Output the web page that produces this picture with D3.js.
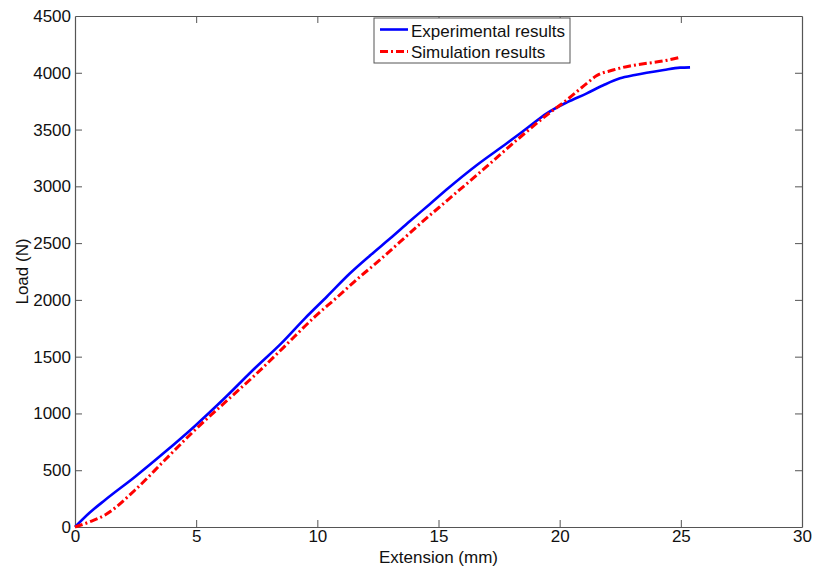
<!DOCTYPE html>
<html>
<head>
<meta charset="utf-8">
<script src="https://cdn.jsdelivr.net/npm/d3@7"></script>
<style>
  html, body { margin: 0; padding: 0; background: #fff; }
  svg { display: block; font-family: "Liberation Sans", Arial, sans-serif; }
</style>
</head>
<body>
<svg id="chart" width="815" height="571"></svg>
<script>
// ---- data ----
const expExtension = [0, 0.6, 1.24, 2.48, 3.71, 4.95, 6.2, 7.43, 8.5, 9.49, 10.4, 11.35, 12.2, 13.0, 13.8, 14.65, 15.41, 16.6, 17.82, 18.7, 19.47, 20.3, 21.12, 21.8, 22.49, 23.1, 23.59, 24.3, 24.97, 25.38];
const expLoad      = [0, 125, 238, 443, 660, 890, 1140, 1400, 1615, 1838, 2030, 2234, 2395, 2540, 2690, 2845, 2985, 3190, 3379, 3520, 3643, 3740, 3819, 3890, 3951, 3980, 4000, 4025, 4045, 4048];

const simExtension = [0, 0.6, 1.24, 2.48, 3.71, 4.95, 6.2, 7.43, 8.6, 9.9, 10.8, 11.76, 12.6, 13.41, 14.24, 15.41, 16.98, 18.3, 19.47, 20.29, 21.12, 21.5, 22.2, 22.9, 23.59, 24.3, 24.97];
const simLoad      = [0, 45, 106, 326, 590, 854, 1100, 1338, 1580, 1852, 2020, 2204, 2355, 2510, 2670, 2885, 3173, 3420, 3628, 3760, 3907, 3971, 4024, 4060, 4083, 4105, 4136];

const seriesNames = ["Experimental results", "Simulation results"];
const xTicks = [0, 5, 10, 15, 20, 25, 30];
const yTicks = [0, 500, 1000, 1500, 2000, 2500, 3000, 3500, 4000, 4500];
const xLabel = "Extension (mm)";
const yLabel = "Load (N)";

// ---- layout ----
const svg = d3.select("#chart");
const L = 75, R = 802, T = 16, B = 527;
const fs = 17;
const axisColor = "#555";

const x = d3.scaleLinear().domain([0, 30]).range([L, R]);
const y = d3.scaleLinear().domain([0, 4500]).range([B, T]);

svg.append("rect").attr("x", L).attr("y", T).attr("width", R - L).attr("height", B - T)
  .attr("fill", "#fff").attr("stroke", "none");

function styleAxis(g, showText) {
  g.select(".domain").attr("stroke", axisColor).attr("stroke-width", 1.2);
  g.selectAll(".tick line").attr("stroke", axisColor).attr("stroke-width", 1);
  g.selectAll(".tick text").attr("fill", "#111").style("font-size", fs + "px")
    .style("font-family", '"Liberation Sans", Arial, sans-serif');
  if (!showText) g.selectAll(".tick text").remove();
}

const gx = svg.append("g").attr("transform", `translate(0,${B})`)
  .call(d3.axisBottom(x).tickValues(xTicks).tickFormat(d3.format("d")).tickSizeInner(-7).tickSizeOuter(0).tickPadding(3));
styleAxis(gx, true);
const gxt = svg.append("g").attr("transform", `translate(0,${T})`)
  .call(d3.axisTop(x).tickValues(xTicks).tickSizeInner(-7).tickSizeOuter(0));
styleAxis(gxt, false);
const gy = svg.append("g").attr("transform", `translate(${L},0)`)
  .call(d3.axisLeft(y).tickValues(yTicks).tickFormat(d3.format("d")).tickSizeInner(-7).tickSizeOuter(0).tickPadding(4));
styleAxis(gy, true);
const gyr = svg.append("g").attr("transform", `translate(${R},0)`)
  .call(d3.axisRight(y).tickValues(yTicks).tickSizeInner(-7).tickSizeOuter(0));
styleAxis(gyr, false);

[gx, gxt].forEach(g => g.selectAll(".tick").filter(d => d === 0 || d === 30).select("line").remove());
[gy, gyr].forEach(g => g.selectAll(".tick").filter(d => d === 0 || d === 4500).select("line").remove());

// axis titles
svg.append("text").attr("x", (L + R) / 2).attr("y", 563).attr("text-anchor", "middle")
  .style("font-size", fs + "px").attr("fill", "#111").text(xLabel);
svg.append("text").attr("transform", `translate(28,${(T + B) / 2}) rotate(-90)`).attr("text-anchor", "middle")
  .style("font-size", fs + "px").attr("fill", "#111").text(yLabel);

// lines
const line = d3.line().x(d => x(d[0])).y(d => y(d[1])).curve(d3.curveMonotoneX);
const expData = expExtension.map((e, i) => [e, expLoad[i]]);
const simData = simExtension.map((e, i) => [e, simLoad[i]]);

svg.append("path").datum(expData).attr("d", line)
  .attr("fill", "none").attr("stroke", "#0000ff").attr("stroke-width", 2.6);
svg.append("path").datum(simData).attr("d", line)
  .attr("fill", "none").attr("stroke", "#ff0000").attr("stroke-width", 3)
  .attr("stroke-dasharray", "8,3,2,3");

// legend
const lg = svg.append("g");
lg.append("rect").attr("x", 374).attr("y", 18).attr("width", 196).attr("height", 45)
  .attr("fill", "#fff").attr("stroke", "#555").attr("stroke-width", 1);
const rows = [
  { name: seriesNames[0], color: "#0000ff", dash: null, w: 2.6, ly: 29.5, ty: 36.5 },
  { name: seriesNames[1], color: "#ff0000", dash: "8,3,2,3", w: 3, ly: 51.5, ty: 57.5 }
];
rows.forEach(r => {
  const ln = lg.append("line").attr("x1", 380).attr("x2", 408).attr("y1", r.ly).attr("y2", r.ly)
    .attr("stroke", r.color).attr("stroke-width", r.w);
  if (r.dash) ln.attr("stroke-dasharray", r.dash);
  lg.append("text").attr("x", 411).attr("y", r.ty).style("font-size", fs + "px").attr("fill", "#111").text(r.name);
});
</script>
</body>
</html>
